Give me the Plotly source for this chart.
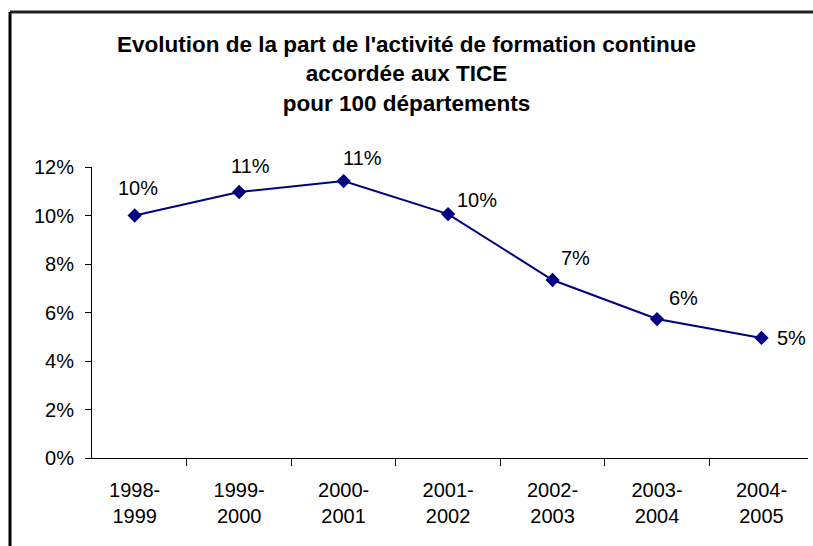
import plotly.graph_objects as go

# -- data --------------------------------------------------------------------
periods = ["1998-<br>1999", "1999-<br>2000", "2000-<br>2001", "2001-<br>2002",
           "2002-<br>2003", "2003-<br>2004", "2004-<br>2005"]
share = [0.100, 0.1097, 0.1142, 0.1006, 0.0734, 0.0573, 0.0495]

# label offsets in pixels (dx, dy) relative to each marker
label_dx = [3, 11, 19, 29, 23, 26, 30]
label_dy = [28, 26, 23, 14, 22, 21, 0]

title_text = ("Evolution de la part de l'activité de formation continue<br>"
              "accordée aux TICE<br>"
              "pour 100 départements")

font_family = "Liberation Sans, Arial, sans-serif"
navy = "#000080"

fig = go.Figure()
fig.add_trace(
    go.Scatter(
        x=periods,
        y=share,
        mode="lines+markers",
        line=dict(color=navy, width=2),
        marker=dict(symbol="diamond", size=11, color=navy),
        hoverinfo="skip",
    )
)

for p, v, dx, dy in zip(periods, share, label_dx, label_dy):
    fig.add_annotation(
        x=p, y=v, text=f"{v:.0%}", showarrow=False,
        xshift=dx, yshift=dy,
        font=dict(family=font_family, size=20, color="black"),
    )

# chart frame: only the top and left edges show in the reference
fig.add_shape(
    type="line", xref="paper", yref="paper",
    x0=-0.1145, x1=1.2, y0=1.5326, y1=1.5326,
    line=dict(color="#222222", width=3),
)
fig.add_shape(
    type="line", xref="paper", yref="paper",
    x0=-0.1145, x1=-0.1145, y0=-0.6, y1=1.5326,
    line=dict(color="black", width=3),
)

fig.update_layout(
    width=813,
    height=546,
    margin=dict(l=92, r=5, t=167, b=88),
    paper_bgcolor="white",
    plot_bgcolor="white",
    showlegend=False,
    font=dict(family=font_family, size=20, color="black"),
    title=dict(
        text=title_text,
        x=0.5, xref="container", xanchor="center",
        y=1 - 52 / 546, yref="container", yanchor="middle",
        font=dict(family=font_family, size=22.5, color="black", weight="bold"),
    ),
    xaxis=dict(
        type="category",
        showline=True, linecolor="black", linewidth=1,
        ticks="outside", tickson="boundaries", ticklen=7, tickcolor="black",
        showgrid=False, zeroline=False,
        ticklabelstandoff=14,
        tickfont=dict(size=20),
    ),
    yaxis=dict(
        range=[0, 0.12], dtick=0.02, tickformat=".0%",
        showline=True, linecolor="black", linewidth=1,
        ticks="outside", ticklen=6, tickcolor="black",
        showgrid=False, zeroline=False,
        ticklabelstandoff=7,
        tickfont=dict(size=20),
    ),
)

fig.write_html(
    "out.html",
    config={"displayModeBar": False},
    post_script=(
        "document.body.style.margin='0';"
        "document.body.style.overflow='hidden';"
        "document.documentElement.style.overflow='hidden';"
    ),
)
